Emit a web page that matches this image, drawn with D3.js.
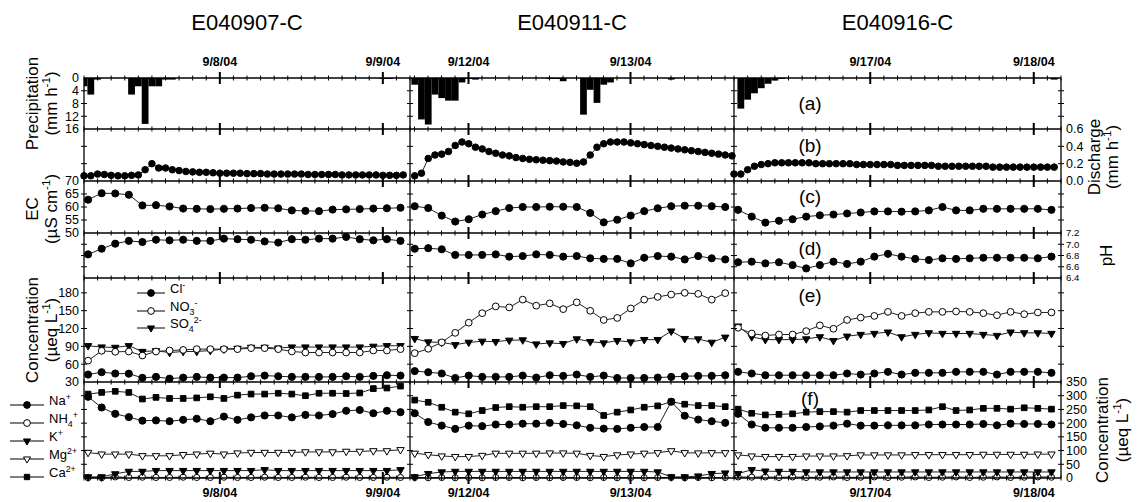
<!DOCTYPE html>
<html>
<head>
<meta charset="utf-8">
<script src="https://cdn.jsdelivr.net/npm/d3@7"></script>
<style>
  body { margin: 0; background: #fff; }
  svg { font-family: "Liberation Sans", Arial, sans-serif; }
</style>
</head>
<body>
<svg id="chart" width="1140" height="502"></svg>
<script>
// ---- Data ----
const siteTitles = ["E040907-C", "E040911-C", "E040916-C"];
const columnStarts = [new Date(2004, 8, 7, 4, 0), new Date(2004, 8, 11, 15, 20), new Date(2004, 8, 16, 4, 0)];
const dayTicks = [[new Date(2004, 8, 8), new Date(2004, 8, 9)], [new Date(2004, 8, 12), new Date(2004, 8, 13)], [new Date(2004, 8, 17), new Date(2004, 8, 18)]];
const dayTickLabels = [["9/8/04", "9/9/04"], ["9/12/04", "9/13/04"], ["9/17/04", "9/18/04"]];
// hours after column start of the first hourly / 2-hourly sample
const hourlyOffset = [0, 0.7, 0];
const chemOffset = [0.6, 0.7, 0.6];

// precipitation, mm/h, hourly
const precipLeft = [2.6,5.2,0.5,0,0,0,0,5.2,2.6,14.4,2.6,2.6,0.5,0.5,0,0,0,0,0,0,0,0,0,0,0,0,0,0,0,0,0,0,0,0,0,0,0,0,0,0,0,0,0,0,0.3,0.3,0,0];
const precipMid = [2.1,13,14.6,5.2,6.3,7.1,7.1,1.4,0.3,0.5,0,0,0,0,0,0,0,0,0,0,0.3,0.3,1.0,0,0,11.5,3.7,7.8,2.1,1.4,0,0,0,0,0,0,0,0,0.5,0,0,0,0,0,0,0,0,0];
const precipRight = [0,9.6,6.8,4.8,3.2,1.8,0.8,0.3,0,0,0,0,0,0,0,0,0,0,0,0,0,0,0,0,0,0,0,0,0,0,0,0,0,0,0,0,0,0,0,0,0,0,0,0,0,0,0,0.5];

// discharge, mm/h, hourly
const dischargeLeft = [0.06,0.06,0.08,0.075,0.065,0.06,0.06,0.065,0.07,0.13,0.2,0.15,0.15,0.13,0.12,0.11,0.105,0.1,0.1,0.095,0.09,0.09,0.09,0.09,0.085,0.085,0.085,0.08,0.08,0.08,0.08,0.08,0.08,0.075,0.075,0.075,0.075,0.075,0.07,0.07,0.07,0.07,0.07,0.07,0.065,0.065,0.065,0.07];
const dischargeMid = [0.06,0.09,0.26,0.3,0.31,0.34,0.41,0.45,0.43,0.39,0.37,0.34,0.32,0.3,0.29,0.27,0.26,0.25,0.245,0.24,0.235,0.23,0.22,0.215,0.205,0.22,0.3,0.39,0.43,0.45,0.45,0.45,0.44,0.43,0.42,0.41,0.4,0.39,0.38,0.37,0.36,0.35,0.34,0.33,0.32,0.31,0.3,0.29];
const dischargeRight = [0.08,0.08,0.13,0.17,0.19,0.2,0.21,0.21,0.21,0.21,0.21,0.21,0.2,0.2,0.2,0.2,0.2,0.2,0.19,0.19,0.19,0.19,0.19,0.19,0.18,0.18,0.18,0.18,0.18,0.18,0.17,0.17,0.17,0.17,0.17,0.17,0.17,0.17,0.16,0.16,0.16,0.16,0.16,0.16,0.16,0.16,0.16,0.16];

// EC, uS/cm, 2-hourly
const ecLeft = [62.8,65.3,65.2,64.7,60.6,60.7,60.2,59.4,59.3,59.2,59.3,59.4,59.6,59.7,59.5,58.7,58.5,58.4,59.0,59.1,59.2,59.4,59.5,59.7];
const ecMid = [60.3,59.6,56.7,54.4,55.3,57.1,58.4,59.6,60.0,60.0,60.1,60.1,60.0,57.7,54.1,55.1,56.7,58.4,59.5,60.3,60.5,60.5,60.3,60.0];
const ecRight = [58.9,56.3,54.0,54.7,55.3,56.3,56.8,57.1,57.5,57.9,58.3,58.3,58.2,58.3,58.7,60.0,58.7,58.7,59.3,59.3,59.3,59.3,59.3,58.9];

// pH
const phLeft = [6.82,6.92,7.01,7.06,7.04,7.08,7.07,7.08,7.06,7.06,7.10,7.09,7.08,7.05,7.03,7.09,7.08,7.10,7.10,7.13,7.09,7.07,7.09,7.06];
const phMid = [6.92,6.93,6.91,6.81,6.81,6.81,6.82,6.78,6.79,6.82,6.81,6.78,6.79,6.75,6.74,6.74,6.66,6.76,6.79,6.78,6.73,6.79,6.75,6.73];
const phRight = [6.68,6.69,6.66,6.68,6.63,6.57,6.63,6.69,6.65,6.69,6.78,6.83,6.78,6.74,6.72,6.75,6.74,6.75,6.76,6.76,6.76,6.76,6.75,6.78];

// anions, ueq/L
const clLeft = [42.5,46.5,44.3,44.0,37.0,38.6,35.7,37.4,38.6,37.4,37.4,37.4,39.7,40.8,39.7,38.6,38.6,38.6,38.6,39.7,38.6,40.3,41.4,40.8];
const no3Left = [66.0,82.5,80.8,81.3,74.5,81.3,83.0,84.0,85.3,85.3,85.3,85.3,87.0,87.0,85.3,81.3,79.6,79.6,79.6,79.6,79.6,83.0,83.0,85.3];
const so4Left = [91.0,88.8,88.2,91.0,81.3,82.5,79.6,81.3,81.3,83.0,85.3,86.5,88.2,88.2,87.0,88.8,88.8,88.8,88.8,88.8,88.8,90.0,91.0,91.0];
const clMid = [48.3,46.5,44.3,36.8,40.8,38.6,38.6,38.6,40.8,37.4,41.4,40.3,42.5,38.6,40.8,36.8,36.8,36.8,37.4,38.6,39.7,40.3,40.3,41.4];
const no3Mid = [78.5,85.9,96.7,112.7,129.8,145.8,157.2,155.5,168.6,158.4,162.3,152.6,164.0,149.8,134.4,137.8,153.8,168.6,173.2,177.2,180.0,178.3,168.6,179.5];
const so4Mid = [103.0,97.3,96.7,92.7,96.7,98.5,97.9,100.2,100.7,93.9,95.6,94.5,102.4,97.9,95.6,99.6,97.3,101.3,101.3,115.6,103.0,102.4,96.7,105.3];
const clRight = [47.1,44.3,41.4,41.4,41.4,41.4,41.4,41.4,44.3,42.5,44.3,47.1,42.5,45.4,45.4,45.4,47.1,47.1,47.1,42.5,47.1,47.1,47.1,45.4];
const no3Right = [121.3,111.6,108.2,109.9,109.9,115.6,125.3,119.6,134.4,138.4,141.2,148.0,141.2,145.8,148.0,148.0,148.7,148.0,145.8,142.4,148.0,144.1,147.0,147.0];
const so4Right = [124.0,105.9,101.3,101.3,101.3,102.4,105.9,99.6,107.0,109.9,111.6,113.9,105.9,109.9,112.7,111.6,111.6,111.6,109.9,108.2,113.9,112.7,112.7,111.6];

// cations, ueq/L
const naLeft = [296,257,234,222,209,210,207,212,216,207,224,212,221,228,228,221,230,228,233,245,248,236,245,240];
const nh4Left = [1,1,4,2,3,2,2,3,2,2,3,2,2,3,2,2,3,2,2,3,2,2,3,2];
const kLeft = [4,4,15,24,24,27,27,27,27,27,27,27,27,30,27,27,27,27,27,27,27,27,27,30];
const mgLeft = [93,87,87,87,81,81,81,85,87,90,87,91,93,93,93,93,95,95,95,97,97,99,99,103];
const caLeft = [306,312,316,312,288,294,290,290,292,296,290,302,306,306,309,306,300,309,309,308,310,326,328,335];
const naMid = [236,204,191,179,191,189,195,195,198,198,201,197,192,183,180,179,183,186,186,278,227,213,207,201];
const nh4Mid = [2,1,2,1,2,1,2,2,1,2,1,2,2,1,2,1,2,1,2,2,1,2,1,2];
const kMid = [4,16,22,24,24,24,24,24,24,24,24,24,24,24,24,24,24,24,22,4,4,7,16,18];
const mgMid = [90,85,80,78,78,82,90,90,90,90,91,91,90,82,78,84,87,90,92,99,92,91,92,92];
const caMid = [284,276,258,240,234,246,257,260,258,260,260,264,263,260,228,240,248,258,263,278,269,264,264,260];
const naRight = [234,195,183,183,183,186,188,191,198,191,191,192,192,192,195,195,195,195,197,192,198,197,197,195];
const nh4Right = [4,3,4,2,4,2,3,4,2,3,4,2,3,4,2,3,4,2,3,4,2,3,4,3];
const kRight = [16,30,25,24,24,22,22,22,22,22,22,22,22,22,22,22,22,22,22,22,22,22,22,22];
const mgRight = [84,80,78,78,78,80,80,80,81,84,84,84,84,85,85,85,85,85,86,86,86,86,87,87];
const caRight = [251,236,230,232,234,240,242,242,240,246,246,246,246,246,248,260,246,248,254,254,251,256,254,251];

const precip = [precipLeft, precipMid, precipRight];
const discharge = [dischargeLeft, dischargeMid, dischargeRight];
const ec = [ecLeft, ecMid, ecRight];
const ph = [phLeft, phMid, phRight];
const anions = [
  {cl: clLeft, no3: no3Left, so4: so4Left},
  {cl: clMid, no3: no3Mid, so4: so4Mid},
  {cl: clRight, no3: no3Right, so4: so4Right}
];
const cations = [
  {na: naLeft, nh4: nh4Left, k: kLeft, mg: mgLeft, ca: caLeft},
  {na: naMid, nh4: nh4Mid, k: kMid, mg: mgMid, ca: caMid},
  {na: naRight, nh4: nh4Right, k: kRight, mg: mgRight, ca: caRight}
];

// ---- Layout ----
const svg = d3.select("#chart");
const HOUR = 3600 * 1000;
const colX = [84, 410, 734, 1061];
const rows = [78, 129, 181, 233, 278, 382, 478];

const yPrecip = d3.scaleLinear().domain([0, 16]).range([rows[0], rows[1]]);
const yQ = d3.scaleLinear().domain([0, 0.6]).range([rows[2], rows[1]]);
const yEC = d3.scaleLinear().domain([50, 70]).range([rows[3], rows[2]]);
const yPH = d3.scaleLinear().domain([6.4, 7.2]).range([rows[4], rows[3]]);
const yAn = d3.scaleLinear().domain([30, 205]).range([rows[5], rows[4]]);
const yCat = d3.scaleLinear().domain([0, 350]).range([rows[6], rows[5]]);

const downTri = "down";

// rich text with sub/superscripts
function addRich(text, parts, fs) {
  let shift = 0;
  parts.forEach(([t, kind]) => {
    const target = kind === "sup" ? -0.42 * fs : kind === "sub" ? 0.3 * fs : 0;
    text.append("tspan")
      .attr("dy", target - shift)
      .attr("font-size", kind ? fs * 0.68 : fs)
      .text(t);
    shift = target;
  });
  return text;
}

function marker(g, x, y, type, open, size) {
  let sym;
  if (type === "circle") sym = d3.symbol().type(d3.symbolCircle).size(size);
  else if (type === "square") sym = d3.symbol().type(d3.symbolSquare).size(size * 0.8);
  else sym = d3.symbol().type(d3.symbolTriangle).size(size * 0.6);
  g.append("path")
    .attr("d", sym)
    .attr("transform", `translate(${x},${y})${type === downTri ? " rotate(180)" : ""}`)
    .attr("fill", open ? "#fff" : "#000")
    .attr("stroke", "#000")
    .attr("stroke-width", 1);
}

function drawSeries(times, values, x, y, type, open, size) {
  svg.append("path")
    .datum(values)
    .attr("d", d3.line().x((d, k) => x(times[k])).y(d => y(d)))
    .attr("fill", "none")
    .attr("stroke", "#222")
    .attr("stroke-width", 1);
  const g = svg.append("g");
  values.forEach((v, k) => marker(g, x(times[k]), y(v), type, open, size));
}

// ---- Columns ----
siteTitles.forEach((title, i) => {
  const start = columnStarts[i];
  const end = new Date(start.getTime() + 48 * HOUR);
  const x = d3.scaleTime().domain([start, end]).range([colX[i], colX[i + 1]]);

  // Title
  svg.append("text")
    .attr("x", (colX[i] + colX[i + 1]) / 2)
    .attr("y", 30)
    .attr("text-anchor", "middle")
    .attr("font-size", 22)
    .text(title);

  // Clip for precipitation bars
  svg.append("clipPath").attr("id", "clip" + i)
    .append("rect")
    .attr("x", colX[i]).attr("y", rows[0])
    .attr("width", colX[i + 1] - colX[i]).attr("height", rows[1] - rows[0]);

  const hourly = precip[i].map((d, j) => new Date(start.getTime() + (hourlyOffset[i] + j) * HOUR));
  const chemTimes = ec[i].map((d, k) => new Date(start.getTime() + (chemOffset[i] + 2 * k) * HOUR));

  // (a) precipitation bars hanging from the top
  svg.append("g").attr("clip-path", `url(#clip${i})`)
    .selectAll("rect")
    .data(precip[i])
    .join("rect")
    .attr("x", (d, j) => x(new Date(hourly[j].getTime() - HOUR / 2)))
    .attr("y", yPrecip(0))
    .attr("width", (d, j) => x(new Date(hourly[j].getTime() + HOUR / 2)) - x(new Date(hourly[j].getTime() - HOUR / 2)))
    .attr("height", d => yPrecip(d) - yPrecip(0))
    .attr("fill", "#000");

  // (b) discharge
  drawSeries(hourly, discharge[i], x, yQ, "circle", false, 34);
  // (c) EC
  drawSeries(chemTimes, ec[i], x, yEC, "circle", false, 40);
  // (d) pH
  drawSeries(chemTimes, ph[i], x, yPH, "circle", false, 40);
  // (e) anions
  drawSeries(chemTimes, anions[i].so4, x, yAn, downTri, false, 40);
  drawSeries(chemTimes, anions[i].no3, x, yAn, "circle", true, 36);
  drawSeries(chemTimes, anions[i].cl, x, yAn, "circle", false, 40);
  // (f) cations
  drawSeries(chemTimes, cations[i].nh4, x, yCat, "circle", true, 30);
  drawSeries(chemTimes, cations[i].k, x, yCat, downTri, false, 40);
  drawSeries(chemTimes, cations[i].mg, x, yCat, downTri, true, 40);
  drawSeries(chemTimes, cations[i].na, x, yCat, "circle", false, 40);
  drawSeries(chemTimes, cations[i].ca, x, yCat, "square", false, 40);

  // Time ticks on every horizontal line
  const minor = x.ticks(d3.timeHour.every(2));
  rows.forEach(ry => {
    svg.append("g").selectAll("line")
      .data(minor)
      .join("line")
      .attr("x1", d => x(d)).attr("x2", d => x(d))
      .attr("y1", ry - 2.5).attr("y2", ry + 2.5)
      .attr("stroke", "#000").attr("stroke-width", 1);
    svg.append("g").selectAll("line")
      .data(dayTicks[i])
      .join("line")
      .attr("x1", d => x(d)).attr("x2", d => x(d))
      .attr("y1", ry - 6).attr("y2", ry + 6)
      .attr("stroke", "#000").attr("stroke-width", 2);
  });

  // Date labels top and bottom
  dayTicks[i].forEach((d, k) => {
    [66, 497].forEach(ty => {
      svg.append("text")
        .attr("x", x(d))
        .attr("y", ty)
        .attr("text-anchor", "middle")
        .attr("font-size", 12.5)
        .attr("font-weight", "bold")
        .text(dayTickLabels[i][k]);
    });
  });

  // Panel letters in the right column
  if (i === 2) {
    const letters = ["(a)", "(b)", "(c)", "(d)", "(e)", "(f)"];
    const ly = [110, 152, 203, 255, 302, 405];
    letters.forEach((t, k) => {
      svg.append("text")
        .attr("x", 810).attr("y", ly[k])
        .attr("text-anchor", "middle")
        .attr("font-size", 19)
        .text(t);
    });
  }
});

// ---- Frame lines ----
rows.forEach(ry => {
  svg.append("line")
    .attr("x1", colX[0]).attr("x2", colX[3])
    .attr("y1", ry).attr("y2", ry)
    .attr("stroke", "#000").attr("stroke-width", 1.3);
});
colX.forEach(cx => {
  svg.append("line")
    .attr("x1", cx).attr("x2", cx)
    .attr("y1", rows[0]).attr("y2", rows[6])
    .attr("stroke", "#000").attr("stroke-width", 1.3);
});

// Value ticks on every vertical line
const valueTicks = [
  [yPrecip, [4, 8, 12]],
  [yQ, [0.2, 0.4]],
  [yEC, [55, 60, 65]],
  [yPH, [6.6, 6.8, 7.0]],
  [yAn, [60, 90, 120, 150, 180]],
  [yCat, [50, 100, 150, 200, 250, 300]]
];
colX.forEach(cx => {
  valueTicks.forEach(([scale, vals]) => {
    svg.append("g").selectAll("line")
      .data(vals)
      .join("line")
      .attr("x1", cx - 3).attr("x2", cx + 3)
      .attr("y1", d => scale(d)).attr("y2", d => scale(d))
      .attr("stroke", "#000").attr("stroke-width", 1);
  });
});

// Left tick labels
const leftLabels = [
  [yPrecip, [0, 4, 8, 12, 16], d3.format("d"), 12.5],
  [yEC, [50, 55, 60, 65, 70], d3.format("d"), 12.5],
  [yAn, [30, 60, 90, 120, 150, 180], d3.format("d"), 12.5]
];
leftLabels.forEach(([scale, vals, fmt, fs]) => {
  svg.append("g").selectAll("text")
    .data(vals)
    .join("text")
    .attr("x", colX[0] - 5)
    .attr("y", d => scale(d))
    .attr("dy", "0.35em")
    .attr("text-anchor", "end")
    .attr("font-size", fs)
    .text(fmt);
});

// Right tick labels
const rightLabels = [
  [yQ, [0, 0.2, 0.4, 0.6], d3.format(".1f"), 12.5],
  [yPH, [6.4, 6.6, 6.8, 7.0, 7.2], d3.format(".1f"), 9.6],
  [yCat, [0, 50, 100, 150, 200, 250, 300, 350], d3.format("d"), 12.5]
];
rightLabels.forEach(([scale, vals, fmt, fs]) => {
  svg.append("g").selectAll("text")
    .data(vals)
    .join("text")
    .attr("x", colX[3] + 5)
    .attr("y", d => scale(d))
    .attr("dy", "0.35em")
    .attr("text-anchor", "start")
    .attr("font-size", fs)
    .text(fmt);
});

// ---- Axis titles ----
function axisTitle(cx, cy, parts) {
  const t = svg.append("text")
    .attr("transform", `translate(${cx},${cy}) rotate(-90)`)
    .attr("text-anchor", "middle")
    .attr("font-size", 17);
  addRich(t, parts, 17);
}
axisTitle(38, (rows[0] + rows[1]) / 2, [["Precipitation"]]);
axisTitle(57, (rows[0] + rows[1]) / 2, [["(mm h"], ["-1", "sup"], [")"]]);
axisTitle(38, (rows[2] + rows[3]) / 2 + 2, [["EC"]]);
axisTitle(57, (rows[2] + rows[3]) / 2 + 2, [["(µS cm"], ["-1", "sup"], [")"]]);
axisTitle(38, (rows[4] + rows[5]) / 2, [["Concentration"]]);
axisTitle(57, (rows[4] + rows[5]) / 2, [["(µeq L"], ["-1", "sup"], [")"]]);
axisTitle(1100, (rows[1] + rows[2]) / 2 + 2, [["Discharge"]]);
axisTitle(1118, (rows[1] + rows[2]) / 2 + 2, [["(mm h"], ["-1", "sup"], [")"]]);
axisTitle(1112, (rows[3] + rows[4]) / 2, [["pH"]]);
axisTitle(1108, (rows[5] + rows[6]) / 2, [["Concentration"]]);
axisTitle(1128, (rows[5] + rows[6]) / 2, [["(µeq L"], ["-1", "sup"], [")"]]);

// ---- Legends ----
function legendRow(x0, x1, y, type, open, parts) {
  svg.append("line")
    .attr("x1", x0).attr("x2", x1)
    .attr("y1", y).attr("y2", y)
    .attr("stroke", "#000").attr("stroke-width", 1);
  marker(svg, (x0 + x1) / 2, y, type, open, 36);
  const t = svg.append("text")
    .attr("x", x1 + 5).attr("y", y)
    .attr("dy", "0.35em")
    .attr("font-size", 13);
  addRich(t, parts, 13);
}
// anion legend inside panel (e)
legendRow(137, 165, 293, "circle", false, [["Cl"], ["-", "sup"]]);
legendRow(137, 165, 311, "circle", true, [["NO"], ["3", "sub"], ["-", "sup"]]);
legendRow(137, 165, 328, downTri, false, [["SO"], ["4", "sub"], ["2-", "sup"]]);
// cation legend left of panel (f)
legendRow(10, 44, 405, "circle", false, [["Na"], ["+", "sup"]]);
legendRow(10, 44, 423, "circle", true, [["NH"], ["4", "sub"], ["+", "sup"]]);
legendRow(10, 44, 441, downTri, false, [["K"], ["+", "sup"]]);
legendRow(10, 44, 459, downTri, true, [["Mg"], ["2+", "sup"]]);
legendRow(10, 44, 477, "square", false, [["Ca"], ["2+", "sup"]]);
</script>
</body>
</html>
